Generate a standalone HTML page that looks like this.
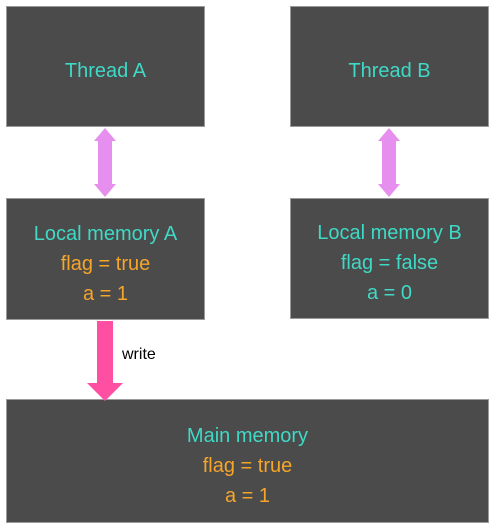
<!DOCTYPE html>
<html><head><style>
body{margin:0;width:493px;height:527px;background:#fff;position:relative;overflow:hidden;font-family:"Liberation Sans",sans-serif}
.b{position:absolute;background:#4b4b4b;border:1px solid #9a9a9a;box-sizing:border-box;display:flex;flex-direction:column;justify-content:center;align-items:center;font-size:20px;line-height:30px;padding-top:9px}
.t{color:#3fd9c6}.o{color:#f5a52a}
</style></head><body>
<div class="b t" style="left:6px;top:6px;width:199px;height:121px">Thread A</div>
<div class="b t" style="left:290px;top:6px;width:199px;height:121px">Thread B</div>
<div class="b" style="left:6px;top:198px;width:199px;height:122px"><span class="t">Local memory A</span><span class="o">flag = true</span><span class="o">a = 1</span></div>
<div class="b" style="left:290px;top:198px;width:199px;height:121px"><span class="t">Local memory B</span><span class="t">flag = false</span><span class="t">a = 0</span></div>
<div class="b" style="left:6px;top:399px;width:483px;height:124px"><span class="t">Main memory</span><span class="o">flag = true</span><span class="o">a = 1</span></div>
<svg width="493" height="527" style="position:absolute;left:0;top:0">
<polygon fill="#e68fee" points="105,128 116,141 112,141 112,184 116,184 105,197 94,184 98,184 98,141 94,141"/>
<polygon fill="#e68fee" points="389,128 400,141 396,141 396,184 400,184 389,197 378,184 382,184 382,141 378,141"/>
<polygon fill="#ff4fa3" points="97,321 113,321 113,383 123,383 105,401 87,383 97,383"/>
<text x="122" y="359" font-size="16" font-family="Liberation Sans,sans-serif" fill="#000">write</text>
</svg>
</body></html>
